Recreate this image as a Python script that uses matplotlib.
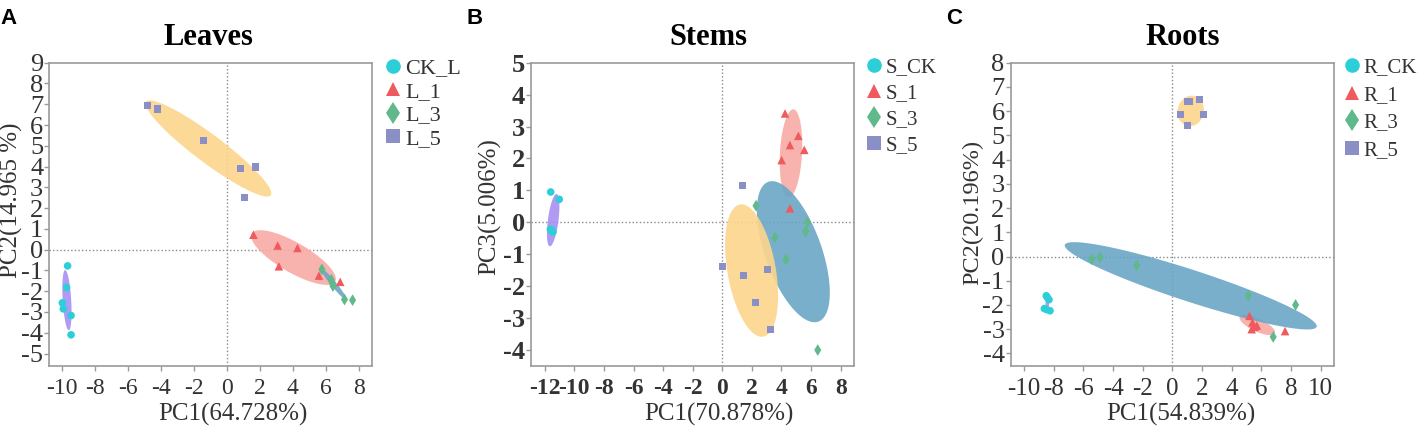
import numpy as np
import matplotlib
matplotlib.use("Agg")
import matplotlib.pyplot as plt
from matplotlib.lines import Line2D

plt.rcParams['font.family'] = ['Liberation Serif', 'DejaVu Serif']
plt.rcParams['axes.unicode_minus'] = False

# ---------------- data ----------------
# Panel A: Leaves
ck_l_x = [-9.64, -9.70, -9.96, -9.90, -9.43, -9.43]
ck_l_y = [-0.78, -1.82, -2.56, -2.85, -3.17, -4.10]
l1_x = [1.63, 3.10, 4.30, 3.17, 5.60, 6.89]
l1_y = [0.72, 0.20, 0.08, -0.80, -1.25, -1.55]
l3_x = [5.78, 6.35, 6.40, 6.45, 7.15, 7.64]
l3_y = [-0.95, -1.45, -1.60, -1.75, -2.40, -2.43]
l5_x = [-4.80, -4.21, -1.38, 0.86, 1.77, 1.08]
l5_y = [6.93, 6.77, 5.24, 3.91, 3.98, 2.50]
leaves_labels = ["CK_L", "L_1", "L_3", "L_5"]
# ellipses: center, semi-major axis vector (data units), minor/major ratio
leaves_ell_center = [(-9.68, -2.43), (4.06, -0.38), (6.50, -1.66), (-1.10, 4.87)]
leaves_ell_axis = [(-0.11, 1.45), (2.53, -1.16), (0.79, -0.77), (3.78, -2.25)]
leaves_ell_ratio = [0.14, 0.31, 0.13, 0.18]

# Panel B: Stems
s_ck_x = [-11.60, -11.02, -11.62, -11.45, -11.50]
s_ck_y = [0.95, 0.72, -0.22, -0.30, -0.25]
s1_x = [4.24, 5.14, 4.57, 5.54, 4.01, 4.57]
s1_y = [3.41, 2.71, 2.42, 2.27, 1.95, 0.44]
s3_x = [2.28, 5.75, 5.63, 3.56, 4.30, 6.45]
s3_y = [0.52, 0.00, -0.29, -0.48, -1.16, -4.00]
s5_x = [1.35, 0.02, 1.46, 3.04, 2.25, 3.27]
s5_y = [1.15, -1.37, -1.67, -1.47, -2.50, -3.35]
stems_labels = ["S_CK", "S_1", "S_3", "S_5"]
stems_ell_center = [(-11.43, 0.07), (4.64, 2.16), (4.80, -0.92), (1.98, -1.51)]
stems_ell_axis = [(0.23, 0.82), (0.16, 1.38), (1.69, -2.19), (0.79, -2.07)]
stems_ell_ratio = [0.20, 0.25, 0.38, 0.36]

# Panel C: Roots
r_ck_x = [-8.50, -8.32, -8.63, -8.47, -8.25, -8.42]
r_ck_y = [-1.62, -1.78, -2.15, -2.19, -2.24, -1.70]
r1_x = [5.20, 5.40, 5.70, 5.35, 5.55, 7.60]
r1_y = [-2.45, -2.72, -2.85, -3.00, -2.90, -3.08]
r3_x = [-5.44, -4.88, -2.40, 5.12, 8.31, 6.80]
r3_y = [-0.11, -0.04, -0.37, -1.62, -2.00, -3.32]
r5_x = [0.52, 1.01, 1.15, 1.82, 2.13, 1.03]
r5_y = [5.88, 6.39, 6.39, 6.48, 5.88, 5.42]
roots_labels = ["R_CK", "R_1", "R_3", "R_5"]
roots_ell_center = [(-8.43, -1.94), (5.73, -2.83), (1.24, -1.21), (1.24, 6.01)]
roots_ell_axis = [(0.0, 0.25), (1.19, -0.34), (8.49, -1.69), (0.22, 0.62)]
roots_ell_ratio = [0.30, 0.33, 0.12, 0.85]

# ---------------- styles ----------------
pt_colors = ["#2ccfd8", "#ef5a5e", "#5fb98a", "#8a90c6"]
ell_colors = ["#a690f2", "#f8aba5", "#6aa6c6", "#fdd58d"]
markers = ["o", "^", "d", "s"]
msizes = [30, 38, 36, 26]
leg_msizes = [10.5, 10.5, 11.5, 9.5]
spine_col = "#9a9a9a"
text_col = "#333333"

W, H = 1418, 429
fig = plt.figure(figsize=(W / 100, H / 100), dpi=100)


def fx(px):
    return px / W


def fy(py):
    return 1 - py / H


panels = [
    dict(left=49.3, right=371.7, xlim=(-10.75, 8.8), ylim=(-5.6, 9.0),
         xticks=np.arange(-10, 9, 2), yticks=np.arange(-5, 10, 1),
         xs=[ck_l_x, l1_x, l3_x, l5_x], ys=[ck_l_y, l1_y, l3_y, l5_y],
         labels=leaves_labels, ec=leaves_ell_center, ea=leaves_ell_axis, er=leaves_ell_ratio,
         title="Leaves", title_x=208, letter="A", letter_x=0,
         xlabel="PC1(64.728%)", xlabel_x=233, ylabel="PC2(14.965 %)", ylabel_x=11, ylabel_y=200,
         ylfs=18, bold_ticks=False, xfs=17, leg_fs=16, leg_x=393, leg_sp=0.13),
    dict(left=531, right=854, xlim=(-12.93, 8.9), ylim=(-4.5, 5.0),
         xticks=np.arange(-12, 9, 2), yticks=np.arange(-4, 6, 1),
         xs=[s_ck_x, s1_x, s3_x, s5_x], ys=[s_ck_y, s1_y, s3_y, s5_y],
         labels=stems_labels, ec=stems_ell_center, ea=stems_ell_axis, er=stems_ell_ratio,
         title="Stems", title_x=708, letter="B", letter_x=467,
         xlabel="PC1(70.878%)", xlabel_x=719, ylabel="PC3(5.006%)", ylabel_x=490, ylabel_y=207,
         ylfs=18, bold_ticks=True, xfs=17, leg_fs=15, leg_x=875, leg_sp=0.3),
    dict(left=1010.7, right=1334, xlim=(-10.9, 10.9), ylim=(-4.52, 8.0),
         xticks=np.arange(-10, 11, 2), yticks=np.arange(-4, 9, 1),
         xs=[r_ck_x, r1_x, r3_x, r5_x], ys=[r_ck_y, r1_y, r3_y, r5_y],
         labels=roots_labels, ec=roots_ell_center, ea=roots_ell_axis, er=roots_ell_ratio,
         title="Roots", title_x=1183, letter="C", letter_x=946,
         xlabel="PC1(54.839%)", xlabel_x=1181, ylabel="PC2(20.196%)", ylabel_x=973, ylabel_y=212,
         ylfs=17.5, bold_ticks=False, xfs=18, leg_fs=15, leg_x=1353, leg_sp=0.38),
]

top_px, bot_px = 62.7, 366.0


def draw_ellipse(ax, c, a, r, color):
    t = np.linspace(0, 2 * np.pi, 240)
    T = ax.transData
    cd = T.transform(c)
    ed = T.transform((c[0] + a[0], c[1] + a[1]))
    u = ed - cd
    v = np.array([-u[1], u[0]]) * r
    pts = cd + np.outer(np.cos(t), u) + np.outer(np.sin(t), v)
    d = T.inverted().transform(pts)
    ax.fill(d[:, 0], d[:, 1], color=color, lw=0, zorder=1, alpha=0.9)


for p in panels:
    ax = fig.add_axes([fx(p["left"]), fy(bot_px), fx(p["right"] - p["left"]), (bot_px - top_px) / H])
    ax.set_xlim(*p["xlim"])
    ax.set_ylim(*p["ylim"])
    ax.set_xticks(p["xticks"])
    ax.set_yticks(p["yticks"])
    ax.set_xticklabels([str(int(v)) for v in p["xticks"]])
    ax.set_yticklabels([str(int(v)) for v in p["yticks"]])
    for s in ax.spines.values():
        s.set_color(spine_col)
        s.set_linewidth(1.2)
    ax.tick_params(axis='both', colors=spine_col, labelcolor=text_col,
                   direction='out', length=3.4, width=1)
    ax.tick_params(axis='x', pad=5, labelsize=p["xfs"])
    ax.tick_params(axis='y', pad=1, labelsize=19)
    if p["bold_ticks"]:
        for lab in ax.get_xticklabels() + ax.get_yticklabels():
            lab.set_fontweight('bold')
    ax.axhline(0, color="#8a8a8a", lw=1, ls=(0, (1, 1.6)), zorder=0.5)
    ax.axvline(0, color="#8a8a8a", lw=1, ls=(0, (1, 1.6)), zorder=0.5)

    for i in range(4):
        draw_ellipse(ax, p["ec"][i], p["ea"][i], p["er"][i], ell_colors[i])
    for i in range(4):
        ax.scatter(p["xs"][i], p["ys"][i], marker=markers[i], s=msizes[i],
                   color=pt_colors[i], edgecolors='none', zorder=3)

    handles = [Line2D([], [], ls='none', marker=markers[i], color=pt_colors[i],
                      markeredgewidth=0, markersize=leg_msizes[i]) for i in range(4)]
    leg = ax.legend(handles, p["labels"], loc='upper left', frameon=False,
                    bbox_to_anchor=(fx(p["leg_x"] - 9), fy(58)), bbox_transform=fig.transFigure,
                    borderaxespad=0, borderpad=0, handlelength=0.8, handletextpad=0.15,
                    labelspacing=p["leg_sp"], prop=dict(family='Liberation Serif', size=p["leg_fs"]))
    for t in leg.get_texts():
        t.set_color(text_col)

    fig.text(fx(p["title_x"]), fy(45), p["title"], ha='center', va='baseline',
             fontsize=22, fontweight='bold', color='black')
    fig.text(fx(p["letter_x"]), fy(24), p["letter"], ha='left', va='baseline',
             fontsize=16, fontweight='bold', family='Liberation Sans', color='black')
    fig.text(fx(p["xlabel_x"]), fy(414), p["xlabel"], ha='center', va='center',
             fontsize=18, color=text_col)
    fig.text(fx(p["ylabel_x"]), fy(p["ylabel_y"]), p["ylabel"], ha='center', va='center',
             rotation=90, fontsize=p["ylfs"], color=text_col)

fig.savefig("out.png", dpi=100)
